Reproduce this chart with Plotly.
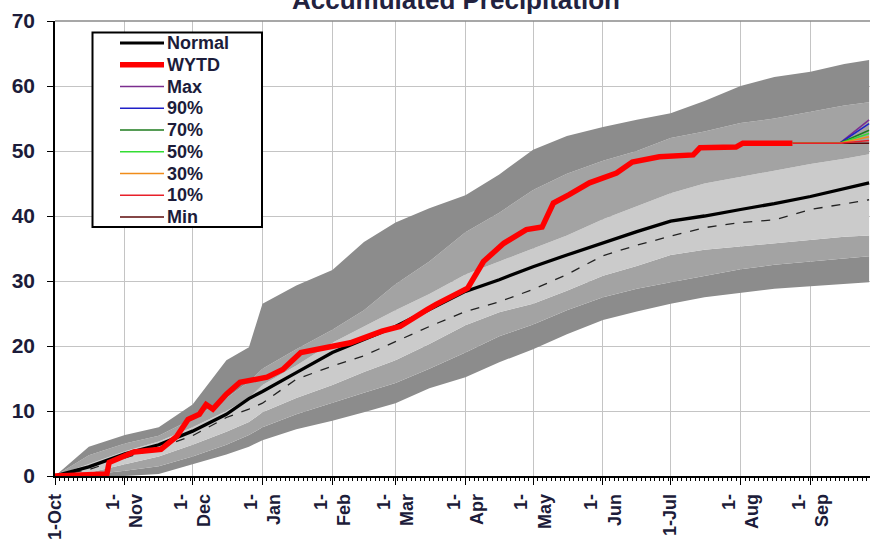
import plotly.graph_objects as go

# ---------------- data ----------------
days = [0, 15, 31, 46, 61, 76, 86, 92, 107, 123, 137, 151, 166, 182, 197, 212,
        227, 243, 258, 273, 288, 304, 319, 335, 350, 361]

max_v = [0, 4.5, 6.3, 7.5, 11.0, 17.8, 19.8, 26.5, 29.3, 31.7, 36.0, 39.0, 41.2, 43.2,
         46.4, 50.2, 52.3, 53.7, 54.8, 55.8, 57.7, 60.0, 61.4, 62.2, 63.4, 64.0]
p90 = [0, 3.2, 5.0, 6.2, 8.8, 12.0, 14.5, 16.5, 19.5, 22.5, 25.5, 29.5, 33.0, 37.5,
       40.5, 44.0, 46.5, 48.5, 50.0, 52.0, 53.0, 54.3, 55.0, 56.0, 57.0, 57.5]
p70 = [0, 1.8, 3.8, 5.3, 7.5, 10.0, 12.0, 14.0, 17.0, 20.5, 23.0, 25.5, 28.0, 31.0,
       33.0, 35.0, 37.0, 39.5, 41.5, 43.5, 45.0, 46.0, 47.0, 48.0, 48.8, 49.5]
p30 = [0, 0.5, 1.8, 3.0, 4.8, 6.8, 8.3, 9.8, 12.0, 14.0, 16.0, 17.8, 20.3, 23.2,
       25.2, 26.5, 28.5, 30.8, 32.3, 34.0, 34.8, 35.3, 35.8, 36.3, 36.8, 37.0]
p10 = [0, 0.2, 0.8, 1.5, 3.0, 4.8, 6.3, 7.5, 9.5, 11.3, 12.8, 14.3, 16.5, 19.0,
       21.5, 23.3, 25.5, 27.5, 28.8, 29.8, 30.8, 31.8, 32.5, 33.0, 33.5, 33.8]
min_v = [0, 0, 0, 0.3, 1.8, 3.3, 4.5, 5.5, 7.2, 8.5, 9.8, 11.2, 13.5, 15.2,
         17.5, 19.5, 21.8, 24.0, 25.3, 26.5, 27.5, 28.2, 28.8, 29.2, 29.6, 29.8]
normal = [0, 1.4, 3.4, 4.8, 6.9, 9.5, 11.9, 13.0, 15.9, 19.0, 21.0, 23.0, 25.6, 28.4,
          30.2, 32.2, 34.0, 35.9, 37.6, 39.2, 40.0, 41.0, 41.9, 43.0, 44.2, 45.1]
median_dash = [0, 1.0, 2.8, 4.3, 6.2, 9.0, 10.3, 11.2, 14.9, 16.9, 18.5, 20.7, 23.0, 25.3,
               26.8, 28.7, 31.0, 33.9, 35.5, 36.9, 38.2, 39.0, 39.4, 41.0, 41.8, 42.5]

wytd_days = [0, 23, 24, 35, 47, 54, 59, 64, 67, 70, 76, 82, 94, 101, 109, 116, 131,
             145, 153, 165, 169, 183, 190, 199, 209, 216, 221, 228, 237, 249, 256,
             268, 283, 286, 302, 305, 327]
wytd = [0, 0.3, 2.1, 3.7, 4.1, 6.1, 8.7, 9.5, 11.0, 10.3, 12.6, 14.4, 15.2, 16.4, 19.0,
        19.5, 20.5, 22.3, 23.0, 25.6, 26.4, 28.9, 33.0, 35.8, 37.9, 38.3, 42.0, 43.3,
        45.1, 46.6, 48.3, 49.1, 49.4, 50.5, 50.6, 51.2, 51.2]

proj_days = [327, 348, 361]
proj_max = [51.2, 51.2, 54.8]
proj_90 = [51.2, 51.2, 54.2]
proj_70 = [51.2, 51.2, 53.2]
proj_50 = [51.2, 51.2, 52.7]
proj_30 = [51.2, 51.2, 52.2]
proj_10 = [51.2, 51.2, 51.6]
proj_min = [51.2, 51.2, 51.2]

month_lengths = [31, 30, 31, 31, 28, 31, 30, 31, 30, 31, 31, 30]
tick_labels = ["1-Oct", "1-<br>Nov", "1-<br>Dec", "1-<br>Jan", "1-<br>Feb", "1-<br>Mar",
               "1-<br>Apr", "1-<br>May", "1-<br>Jun", "1-Jul", "1-<br>Aug", "1-<br>Sep"]

legend_names = ["Normal", "WYTD", "Max", "90%", "70%", "50%", "30%", "10%", "Min"]
legend_colors = ["#000000", "#ff0000", "#7b2d8e", "#2020c8", "#1e7b1e", "#33dd33",
                 "#f08c1a", "#e8202a", "#5c0a0a"]
legend_widths = [3, 5.5, 1.5, 1.5, 1.5, 1.5, 1.5, 1.5, 1.5]

# ---------------- figure ----------------
DARK = "#8c8c8c"
MED = "#a3a3a3"
LIGHT = "#cbcbcb"
FONT = "Liberation Sans, Arial, sans-serif"
TXT = "#1c1c3a"

tick_vals = [0]
for m in month_lengths[:-1]:
    tick_vals.append(tick_vals[-1] + m)

fig = go.Figure()

band_series = [(min_v, None), (p10, DARK), (p30, MED), (p70, LIGHT), (p90, MED), (max_v, DARK)]
for vals, col in band_series:
    fig.add_trace(go.Scatter(
        x=days, y=vals, mode="lines", line=dict(width=0),
        fill=None if col is None else "tonexty", fillcolor=col,
        showlegend=False, hoverinfo="skip"))

fig.add_trace(go.Scatter(x=days, y=median_dash, mode="lines",
                         line=dict(color="#222222", width=1.3, dash="dash"),
                         showlegend=False))
fig.add_trace(go.Scatter(x=days, y=normal, mode="lines", name="Normal",
                         line=dict(color=legend_colors[0], width=3.3),
                         showlegend=False))
fig.add_trace(go.Scatter(x=wytd_days, y=wytd, mode="lines", name="WYTD",
                         line=dict(color=legend_colors[1], width=legend_widths[1]),
                         showlegend=False))

proj = [("Min", proj_min, 8), ("Max", proj_max, 2), ("90%", proj_90, 3), ("70%", proj_70, 4),
        ("50%", proj_50, 5), ("30%", proj_30, 6), ("10%", proj_10, 7)]
for name, vals, ci in proj:
    fig.add_trace(go.Scatter(x=proj_days, y=vals, mode="lines", name=name,
                             line=dict(color=legend_colors[ci], width=1.5),
                             showlegend=False))

# ---------------- manual legend ----------------
L, R, T, B = 55.0, 870.0, 21.0, 476.0
def px(xp):
    return (xp - L) / (R - L)
def py(yp):
    return (B - yp) / (B - T)

shapes = [
    dict(type="line", xref="paper", yref="paper", x0=0, x1=1, y0=1, y1=1,
         line=dict(color="#8a8a8a", width=1.5)),
    dict(type="rect", xref="paper", yref="paper",
         x0=px(92.5), x1=px(262), y0=py(32.5), y1=py(227),
         line=dict(color="black", width=2), fillcolor="white"),
]
annotations = []
for i, (nm, col, w) in enumerate(zip(legend_names, legend_colors, legend_widths)):
    yy = 43.0 + i * 21.75
    shapes.append(dict(type="line", xref="paper", yref="paper",
                       x0=px(120), x1=px(164), y0=py(yy), y1=py(yy),
                       line=dict(color=col, width=w)))
    annotations.append(dict(text=nm, xref="paper", yref="paper", x=px(165), y=py(yy),
                            xanchor="left", yanchor="middle", showarrow=False,
                            font=dict(family=FONT, size=18, color=TXT, weight="bold")))

fig.update_layout(
    width=870, height=549,
    margin=dict(l=55, r=0, t=21, b=73, autoexpand=False),
    paper_bgcolor="white", plot_bgcolor="white",
    showlegend=False,
    title=dict(text="Accumulated Precipitation", x=456 / 870, xanchor="center",
               xref="container", yref="container", y=1 - 8.5 / 549, yanchor="bottom",
               font=dict(family=FONT, size=26, color="#22223f", weight="bold")),
    shapes=shapes, annotations=annotations,
    xaxis=dict(range=[0, 361.4], tickmode="array", tickvals=tick_vals, ticktext=tick_labels,
               tickangle=-90, ticks="outside", ticklen=7, tickcolor="black", tickwidth=1.2,
               showline=True, linecolor="black", linewidth=1.5, automargin=False,
               showgrid=True, gridcolor="#c4c4c4", gridwidth=1, zeroline=False,
               ticklabelstandoff=2,
               tickfont=dict(family=FONT, size=18, color=TXT, weight="bold"),
               minor=dict(ticks="outside", ticklen=3, dtick=2, tick0=0, tickcolor="black",
                          showgrid=False)),
    yaxis=dict(range=[0, 70], dtick=10, ticks="outside", ticklen=6, tickcolor="black",
               showline=True, linecolor="black", linewidth=1.5, automargin=False,
               showgrid=True, gridcolor="#c4c4c4", gridwidth=1, zeroline=False,
               ticklabelstandoff=8,
               tickfont=dict(family=FONT, size=21, color=TXT, weight="bold")),
)

fig.write_html(
    "out.html",
    config={"displayModeBar": False},
    post_script="document.body.style.margin='0';document.body.style.overflow='hidden';",
)
